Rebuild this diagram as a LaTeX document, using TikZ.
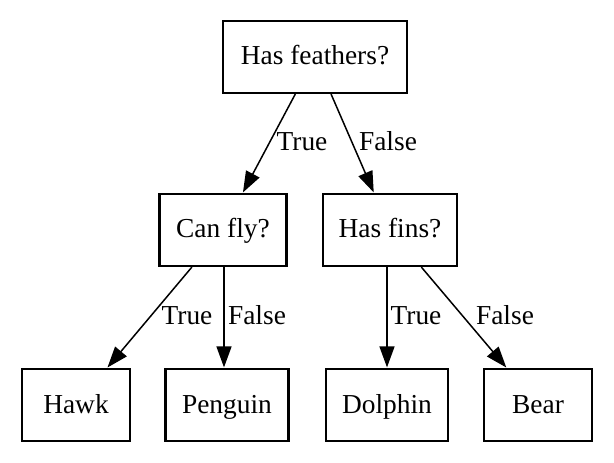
\documentclass[tikz,border=0pt]{standalone}
\usepackage{fontspec}
\setmainfont{Liberation Serif}
\usetikzlibrary{arrows.meta}
\tikzset{
  box/.style={draw=black, line width=2.2bp, rectangle, minimum height=72bp, inner xsep=0pt, text height=20bp, text depth=4bp, font=\fontsize{27.5}{33}\selectfont},
  edge/.style={draw=black, line width=1.5bp, -{Triangle[length=21bp, width=15bp]}, shorten >=0.5bp},
  lbl/.style={inner sep=0pt, text height=20bp, text depth=4bp, font=\fontsize{27.5}{33}\selectfont}
}
\begin{document}
\begin{tikzpicture}[x=1bp, y=-1bp]
\useasboundingbox (0,0) rectangle (614,463);
\node[box, minimum width=184bp] (hf) at (315,57) {Has feathers?};
\node[box, minimum width=127bp] (cf) at (223,230) {Can fly?};
\node[box, minimum width=134bp] (hn) at (390,230) {Has fins?};
\node[box, minimum width=108bp] (hawk) at (76,405) {Hawk};
\node[box, minimum width=123bp] (peng) at (227,405) {Penguin};
\node[box, minimum width=122bp] (dol) at (387,405) {Dolphin};
\node[box, minimum width=108bp] (bear) at (538,405) {Bear};
\draw[edge] (hf) -- (cf);
\draw[edge] (hf) -- (hn);
\draw[edge] (cf) -- (hawk);
\draw[edge] (cf.south -| 224,0) -- (peng.north -| 224,0);
\draw[edge] (hn.south -| 387,0) -- (dol.north -| 387,0);
\draw[edge] (hn) -- (bear);
\node[lbl] (l1) at (302,143) {True};
\node[lbl] (l2) at (388,143) {False};
\node[lbl] (l3) at (187,316) {True};
\node[lbl] (l4) at (257,316) {False};
\node[lbl] (l5) at (416,316) {True};
\node[lbl] (l6) at (505,316) {False};
\end{tikzpicture}
\end{document}
